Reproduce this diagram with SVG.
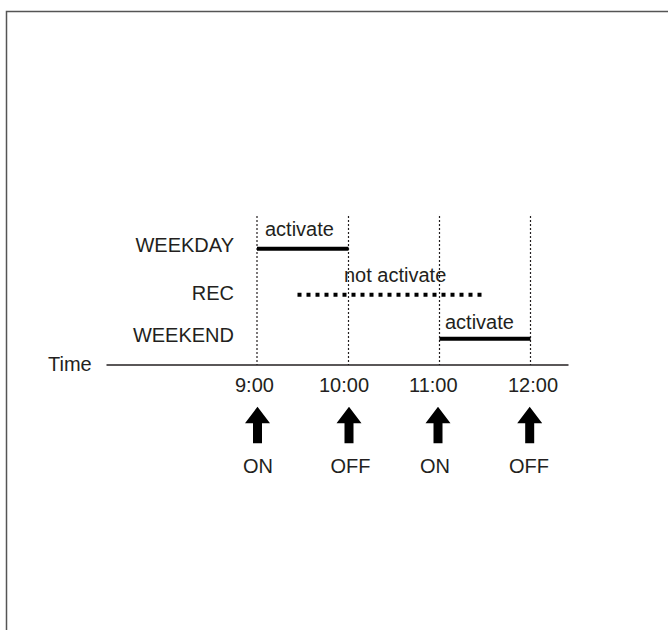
<svg xmlns="http://www.w3.org/2000/svg" width="668" height="630" viewBox="0 0 668 630">
<style>
text{font-family:"Liberation Sans",Arial,sans-serif;font-size:20px;fill:#231f20}
.r{text-anchor:end}
.c{text-anchor:middle}
.v{stroke:#231f20;stroke-width:1.2;stroke-dasharray:2 2;fill:none}
.bar{stroke:#000;stroke-width:4;fill:none}
.arr{fill:#000}
</style>
<defs>
<path id="arrow" d="M0,0 L12.5,16.6 L4.5,16.6 L4.5,36.6 L-4.5,36.6 L-4.5,16.6 L-12.5,16.6 Z"/>
</defs>
<rect x="6.5" y="11.5" width="700" height="700" fill="#fff" stroke="#555" stroke-width="1.5"/>
<g id="labels">
<text class="r" x="234" y="252">WEEKDAY</text>
<text class="r" x="234" y="300">REC</text>
<text class="r" x="234" y="341.5">WEEKEND</text>
<text x="48" y="370.5">Time</text>
</g>
<g id="connectors">
<line x1="106.5" y1="365" x2="568.5" y2="365" stroke="#231f20" stroke-width="1.3"/>
<line class="v" x1="257" y1="216" x2="257" y2="365"/>
<line class="v" x1="348.5" y1="216" x2="348.5" y2="365"/>
<line class="v" x1="439.5" y1="216" x2="439.5" y2="365"/>
<line class="v" x1="530.5" y1="216" x2="530.5" y2="365"/>
<line class="bar" x1="257" y1="248.7" x2="348.5" y2="248.7"/>
<line class="bar" x1="439.5" y1="338.7" x2="530.5" y2="338.7"/>
<line x1="297.5" y1="294.7" x2="483" y2="294.7" stroke="#000" stroke-width="4" stroke-dasharray="4 5"/>
</g>
<g id="bar-labels">
<text x="265" y="235.7">activate</text>
<text x="344" y="281.7">not activate</text>
<text x="445" y="329.3">activate</text>
</g>
<g id="times">
<text x="235" y="391.7">9:00</text>
<text x="319" y="391.7">10:00</text>
<text x="409" y="391.7">11:00</text>
<text x="508" y="391.7">12:00</text>
</g>
<g id="switch-900">
<use href="#arrow" x="257.5" y="406.7" class="arr"/>
<text class="c" x="258" y="473.3">ON</text>
</g>
<g id="switch-1000">
<use href="#arrow" x="349" y="406.7" class="arr"/>
<text class="c" x="350.5" y="473.3">OFF</text>
</g>
<g id="switch-1100">
<use href="#arrow" x="438" y="406.7" class="arr"/>
<text class="c" x="435" y="473.3">ON</text>
</g>
<g id="switch-1200">
<use href="#arrow" x="529.7" y="406.7" class="arr"/>
<text class="c" x="529" y="473.3">OFF</text>
</g>
</svg>
